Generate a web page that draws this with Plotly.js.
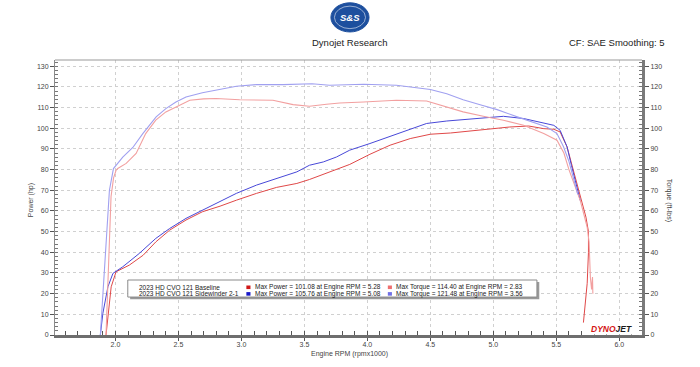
<!DOCTYPE html>
<html>
<head>
<meta charset="utf-8">
<script src="https://cdn.plot.ly/plotly-3.0.1.min.js"></script>
<style>html,body{margin:0;padding:0;background:#fff;}#chart{width:700px;height:367px;}</style>
</head>
<body>
<div id="chart"></div>
<script>
// ---- Data ----
const runNames = ['2023 HD CVO 121 Baseline', '2023 HD CVO 121 Sidewinder 2-1'];

const baseTorqueRpm = [1.925,1.945,1.965,1.985,2.005,2.018,2.085,2.164,2.24,2.32,2.40,2.51,2.59,2.70,2.80,2.986,3.25,3.41,3.54,3.675,3.78,3.97,4.23,4.47,4.63,4.76,4.92,5.08,5.24,5.40,5.505,5.56,5.60,5.65,5.69,5.72,5.745,5.76,5.765,5.77,5.78,5.787,5.79];
const baseTorqueVal = [0,35,67,76,79.7,80.5,83,87.8,97.4,103.9,107.9,111.1,113.5,114.2,114.4,113.8,113.5,111.4,110.6,111.6,112.2,112.7,113.5,113.2,110.3,107.9,105.8,103.9,101.4,97.4,94.2,88,80,72,65,58,52,45,35,28,22,28,20];

const basePowerRpm = [1.925,1.94,1.966,2.005,2.11,2.22,2.32,2.43,2.51,2.56,2.69,2.83,2.96,3.12,3.28,3.44,3.54,3.70,3.86,4.02,4.18,4.34,4.50,4.66,4.815,4.97,5.13,5.28,5.40,5.48,5.53,5.585,5.62,5.66,5.70,5.735,5.755,5.755,5.745,5.73,5.715];
const basePowerVal = [0,8.8,23.3,30.6,33.8,38.6,45,50.7,53.5,55.6,59.6,62.3,65.2,68.5,71.4,73.3,75.2,78.9,82.5,87.4,91.8,95,97.1,97.7,98.7,99.8,100.6,101.08,99.8,99.5,98.2,91,83,74,65,57,50,40,25,15,6];

const swTorqueRpm = [1.88,1.92,1.952,1.984,2.058,2.138,2.217,2.323,2.40,2.48,2.56,2.69,2.83,2.96,3.12,3.33,3.56,3.70,3.97,4.23,4.39,4.50,4.63,4.76,4.895,5.03,5.19,5.32,5.425,5.505,5.557,5.60,5.64,5.67];
const swTorqueVal = [0,42,70,80.5,86,90.7,97.4,105.5,109.5,112.7,115.1,117.2,118.7,120.3,121.1,121.1,121.48,120.8,121.3,120.8,119.6,118.7,116.7,113.8,111.4,109,105.5,103,100.6,97.4,91,84,75,68];

const swPowerRpm = [1.88,1.90,1.94,1.98,2.058,2.19,2.32,2.43,2.56,2.69,2.83,2.96,3.12,3.28,3.44,3.54,3.65,3.755,3.86,4.02,4.18,4.34,4.47,4.63,4.79,4.95,5.08,5.24,5.40,5.48,5.53,5.585,5.62,5.66,5.69];
const swPowerVal = [0,10.5,23.3,29.8,33,39.5,46.7,51.5,56.4,60.4,64.4,68.5,72.5,75.7,78.9,82.1,83.7,86.1,89.4,92.6,96.1,99.8,102.3,103.5,104.2,105.1,105.76,104.7,102.6,101.4,99,91,82,72,65];

const summaryPower = ['Max Power = 101.08 at Engine RPM = 5.28', 'Max Power = 105.76 at Engine RPM = 5.08'];
const summaryTorque = ['Max Torque = 114.40 at Engine RPM = 2.83', 'Max Torque = 121.48 at Engine RPM = 3.56'];

const xTickVals = [2.0,2.5,3.0,3.5,4.0,4.5,5.0,5.5,6.0];
const xTickText = ['2.0','2.5','3.0','3.5','4.0','4.5','5.0','5.5','6.0'];
const yTickVals = [0,10,20,30,40,50,60,70,80,90,100,110,120,130];

// ---- Styles ----
const C = {
  basePower: '#e04848', baseTorque: '#f2a0a0',
  swPower: '#4848d8', swTorque: '#a0a0f0',
  sqBasePower: '#d01818', sqBaseTorque: '#ee7070',
  sqSwPower: '#1818c8', sqSwTorque: '#7070e6'
};
const FONT = 'Liberation Sans, Arial, sans-serif';

const traces = [
  {x: baseTorqueRpm, y: baseTorqueVal, yaxis: 'y2', mode: 'lines', line: {color: C.baseTorque, width: 1.1}, hoverinfo: 'skip'},
  {x: swTorqueRpm, y: swTorqueVal, yaxis: 'y2', mode: 'lines', line: {color: C.swTorque, width: 1.1}, hoverinfo: 'skip'},
  {x: basePowerRpm, y: basePowerVal, mode: 'lines', line: {color: C.basePower, width: 1}, hoverinfo: 'skip'},
  {x: swPowerRpm, y: swPowerVal, mode: 'lines', line: {color: C.swPower, width: 1}, hoverinfo: 'skip'}
];

const tickFont = {family: FONT, size: 7, color: '#444'};
const yCommon = {
  range: [0, 133], tickvals: yTickVals, ticks: 'outside', ticklen: 4, tickcolor: '#555',
  tickfont: tickFont, zeroline: false, fixedrange: true,
  minor: {dtick: 2, tick0: 0, ticks: 'inside', ticklen: 3, tickcolor: '#777', showgrid: false}
};

function note(text, x, y, opts) {
  return Object.assign({text: text, xref: 'paper', yref: 'paper', x: x, y: y, xanchor: 'center', yanchor: 'middle', showarrow: false, font: {family: FONT, size: 6.5, color: '#222'}}, opts || {});
}

const layout = {
  width: 700, height: 367,
  margin: {l: 55, r: 58, t: 60, b: 32},
  paper_bgcolor: '#fff', plot_bgcolor: '#fff',
  showlegend: false,
  font: {family: FONT, color: '#333'},
  xaxis: {
    range: [1.52, 6.18], tickmode: 'array', tickvals: xTickVals, ticktext: xTickText,
    ticks: 'outside', ticklen: 3, tickcolor: '#555', tickfont: tickFont, ticklabelstandoff: -2,
    showgrid: true, gridcolor: '#d0d0d0', griddash: 'dot', gridwidth: 1,
    showline: true, linecolor: '#6e6e6e', linewidth: 3, zeroline: false,
    minor: {dtick: 0.1, tick0: 0, ticks: 'inside', ticklen: 4, tickcolor: '#555', showgrid: false}
  },
  yaxis: Object.assign({}, yCommon, {
    showgrid: true, gridcolor: '#d0d0d0', griddash: 'dot', gridwidth: 1,
    showline: true, linecolor: '#8a8a8a', linewidth: 1
  }),
  yaxis2: Object.assign({}, yCommon, {
    overlaying: 'y', side: 'right', showgrid: false,
    showline: true, linecolor: '#7a7a7a', linewidth: 3
  }),
  shapes: [
    {type: 'line', xref: 'paper', yref: 'paper', x0: 0, x1: 1, y0: 1, y1: 1, line: {color: '#999', width: 1}},
    {type: 'circle', xref: 'paper', yref: 'paper', x0: 0.470, x1: 0.535, y0: 1.102, y1: 1.208, fillcolor: '#1d4f9e', line: {color: '#1d4f9e', width: 1}},
    {type: 'circle', xref: 'paper', yref: 'paper', x0: 0.476, x1: 0.529, y0: 1.114, y1: 1.196, fillcolor: 'rgba(0,0,0,0)', line: {color: '#cfd8ea', width: 0.7}},
    {type: 'rect', xref: 'paper', yref: 'paper', x0: 0.128, x1: 0.825, y0: 0.130, y1: 0.193, fillcolor: '#9a9a9a', line: {width: 0}},
    {type: 'rect', xref: 'paper', yref: 'paper', x0: 0.124, x1: 0.821, y0: 0.138, y1: 0.200, fillcolor: '#ffffff', line: {color: '#8a8a8a', width: 1}},
    {type: 'rect', xref: 'paper', yref: 'paper', x0: 0.326, x1: 0.333, y0: 0.167, y1: 0.180, fillcolor: C.sqBasePower, line: {width: 0}},
    {type: 'rect', xref: 'paper', yref: 'paper', x0: 0.326, x1: 0.333, y0: 0.143, y1: 0.156, fillcolor: C.sqSwPower, line: {width: 0}},
    {type: 'rect', xref: 'paper', yref: 'paper', x0: 0.567, x1: 0.574, y0: 0.167, y1: 0.180, fillcolor: C.sqBaseTorque, line: {width: 0}},
    {type: 'rect', xref: 'paper', yref: 'paper', x0: 0.567, x1: 0.574, y0: 0.143, y1: 0.156, fillcolor: C.sqSwTorque, line: {width: 0}}
  ],
  annotations: [
    note('<b><i>S&amp;S</i></b>', 0.5025, 1.155, {font: {family: FONT, size: 9.5, color: '#fff'}}),
    note('Dynojet Research', 0.5025, 1.065, {font: {family: FONT, size: 9.5, color: '#222'}}),
    note('CF: SAE Smoothing: 5', 1.043, 1.065, {xanchor: 'right', font: {family: FONT, size: 9.5, color: '#222'}}),
    note('Power (hp)', -0.041, 0.49, {textangle: -90, font: {family: FONT, size: 7, color: '#444'}}),
    note('Torque (ft-lbs)', 1.045, 0.49, {textangle: 90, font: {family: FONT, size: 7, color: '#444'}}),
    note('Engine RPM (rpmx1000)', 0.5025, -0.068, {font: {family: FONT, size: 7, color: '#444'}}),
    note(runNames[0], 0.140, 0.174, {xanchor: 'left'}),
    note(runNames[1], 0.140, 0.150, {xanchor: 'left'}),
    note(summaryPower[0], 0.337, 0.174, {xanchor: 'left'}),
    note(summaryPower[1], 0.337, 0.150, {xanchor: 'left'}),
    note(summaryTorque[0], 0.578, 0.174, {xanchor: 'left'}),
    note(summaryTorque[1], 0.578, 0.150, {xanchor: 'left'}),
    note('<b><i><span style="color:#d41414">DYNO</span><span style="color:#1a1a1a">JET</span></i></b>', 0.985, 0.022, {xanchor: 'right', bgcolor: '#ffffff', borderpad: 0, font: {family: FONT, size: 8.5}})
  ]
};

Plotly.newPlot('chart', traces, layout, {staticPlot: true, displayModeBar: false});
</script>
</body>
</html>
